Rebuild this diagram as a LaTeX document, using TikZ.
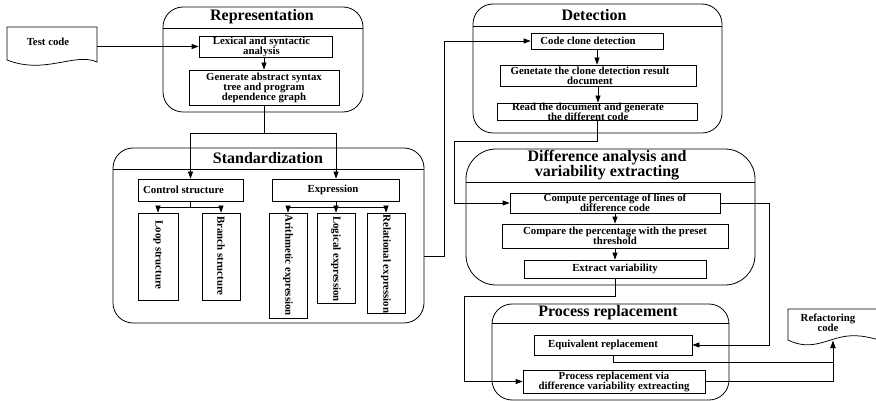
\documentclass[tikz,border=0pt]{standalone}
\usepackage{fontspec}
\setmainfont{Liberation Serif}
\usetikzlibrary{arrows.meta,calc}

\begin{document}
\begin{tikzpicture}[x=1pt,y=-1pt,
  wire/.style={line width=0.75pt},
  arr/.style={wire,-{Triangle[length=7pt,width=5pt]}},
  panel/.style={draw,line width=0.8pt,rounded corners=20pt,inner sep=0pt},
  sepline/.style={line width=0.8pt},
  title/.style={font=\fontsize{16}{13.5}\selectfont\bfseries,align=center,inner sep=0pt},
  box/.style={draw,line width=0.75pt,inner sep=0pt},
  every label/.style={font=\fontsize{10.8}{10}\selectfont\bfseries,align=center,inner sep=0pt},
  vtext/.style={font=\fontsize{10.8}{10}\selectfont\bfseries,rotate=-90,inner sep=0pt},
  doctext/.style={font=\fontsize{10.8}{10}\selectfont\bfseries,align=center,inner sep=0pt}
]
\useasboundingbox (0,0) rectangle (876,401);
\clip (0,0) rectangle (876,401);

% ---------- input document ----------
\node[minimum width=90pt,minimum height=35pt,inner sep=0pt] (tc) at (52,44.5) {};
\draw[wire] (7,27) -- (97,27) -- (97,62) .. controls (75,52) and (45,75) .. (7,60) -- cycle;
\node[doctext] (tcT) at (48,42) {Test code};

% ---------- Representation ----------
\node[panel,minimum width=200pt,minimum height=105pt] (rep) at (263,59.5) {};
\draw[sepline] (rep.west |- 0,28) -- (rep.east |- 0,28);
\node[title] (repT) at (262,17) {Representation};
\node[box,minimum width=133pt,minimum height=21pt,
      label={[xshift=-4pt]center:Lexical and syntactic\\analysis}] (lex) at (265.5,46.5) {};
\node[box,minimum width=150pt,minimum height=35pt,
      label={center:Generate abstract syntax\\tree and program\\dependence graph}] (gen) at (264,87.5) {};

% ---------- Standardization ----------
\node[panel,minimum width=311pt,minimum height=175pt] (std) at (268.5,235.5) {};
\draw[sepline] (std.west |- 0,169) -- (std.east |- 0,169);
\node[title] (stdT) at (268,158) {Standardization};
\node[box,minimum width=105pt,minimum height=22pt,
      label={[xshift=-7pt]center:Control structure}] (ctrl) at (190.5,190) {};
\node[box,minimum width=127pt,minimum height=22pt,
      label={[xshift=-3pt]center:Expression}] (expr) at (336,190) {};
\node[box,minimum width=40pt,minimum height=87pt] (loop) at (158,256.5) {};
\node[vtext] (loopT) at (158,255) {Loop structure};
\node[box,minimum width=38pt,minimum height=87pt] (branch) at (221,256.5) {};
\node[vtext] (branchT) at (221,256) {Branch structure};
\node[box,minimum width=38pt,minimum height=105pt] (arith) at (288,265.5) {};
\node[vtext] (arithT) at (288,265) {Arithmetic expression};
\node[box,minimum width=38pt,minimum height=90pt] (logic) at (336,258) {};
\node[vtext] (logicT) at (336,259) {Logical expression};
\node[box,minimum width=38pt,minimum height=100pt] (rel) at (386,263) {};
\node[vtext] (relT) at (386,264) {Relational expression};

% ---------- Detection ----------
\node[panel,minimum width=249pt,minimum height=129pt] (det) at (597.5,68.5) {};
\draw[sepline] (det.west |- 0,26) -- (det.east |- 0,26);
\node[title] (detT) at (594,15) {Detection};
\node[box,minimum width=132pt,minimum height=16pt,
      label={[xshift=-9pt]center:Code clone detection}] (cc) at (597,41) {};
\node[box,minimum width=196pt,minimum height=21pt,
      label={[xshift=-8pt]center:Genetate the clone detection result\\document}] (gd) at (598,75.5) {};
\node[box,minimum width=200pt,minimum height=17pt,
      label={[xshift=-9pt]center:Read the document and generate\\the different code}] (rd) at (597,111.5) {};

% ---------- Difference analysis ----------
\node[panel,rounded corners=30pt,minimum width=289pt,minimum height=136pt] (dif) at (610.5,217) {};
\draw[sepline] (dif.west |- 0,182) -- (dif.east |- 0,182);
\node[title] (difT) at (607,165) {Difference analysis and\\variability extracting};
\node[box,minimum width=210pt,minimum height=20pt,
      label={center:Compute percentage of lines of\\difference code}] (cp) at (615,203) {};
\node[box,minimum width=226pt,minimum height=24pt,
      label={center:Compare the percentage with the preset\\threshold}] (cmp) at (615,236) {};
\node[box,minimum width=182pt,minimum height=18pt,
      label={center:Extract variability}] (ex) at (615,269) {};

% ---------- Process replacement ----------
\node[panel,minimum width=237pt,minimum height=96pt] (proc) at (610.5,352) {};
\draw[sepline] (proc.west |- 0,323) -- (proc.east |- 0,323);
\node[title] (procT) at (608,313) {Process replacement};
\node[box,minimum width=158pt,minimum height=20pt,
      label={[xshift=-10pt]center:Equivalent replacement}] (eq) at (613,345) {};
\node[box,minimum width=182pt,minimum height=23pt,
      label={center:Process replacement via\\difference variability extreacting}] (pv) at (614,381.5) {};

% ---------- output document ----------
\draw[wire] (788,340) -- (788,309) -- (905,309) -- (905,347)
  .. controls (885,343) and (868,334) .. (848,336)
  .. controls (828,338) and (812,352) .. (788,340) -- cycle;
\node[doctext] (ref) at (828,323) {Refactoring\\code};
\coordinate (refin) at (833,341);

% ---------- connectors ----------
\draw[arr] (tc.east |- lex.west) -- (lex.west);
\draw[arr] (lex.south -| gen.north) -- (gen.north);
\draw[wire] (gen.south) -- (gen.south |- 0,133) coordinate (g1);
\draw[arr] (g1) -| (ctrl.north);
\draw[arr] (g1) -| (expr.north);
\draw[wire] (ctrl.south) -- ++(0,6) coordinate (c1);
\draw[arr] (c1) -| (loop.north);
\draw[arr] (c1) -| (branch.north);
\draw[wire] (expr.south) -- ++(0,6) coordinate (e1);
\draw[arr] (e1) -| (arith.north);
\draw[arr] (e1) -- (logic.north);
\draw[arr] (e1) -| (rel.north);
\draw[arr] (std.east |- 0,256) -- ++(20,0) |- (cc.west);
\draw[arr] (cc.south) -- (cc.south |- gd.north);
\draw[arr] (gd.south) -- (gd.south |- rd.north);
\draw[arr] (rd.south) -- ++(0,21) -| ([xshift=-55pt]cp.west) -- (cp.west);
\draw[arr] (cp.south) -- (cmp.north);
\draw[arr] (cmp.south) -- (ex.north);
\draw[arr] (cp.east) -- ++(49,0) |- (eq.east);
\draw[arr] (ex.south) -- ++(0,18) -| ([xshift=-58pt]pv.west) -- (pv.west);
\draw[arr] (eq.south) -- ++(0,7) -| (refin);
\draw[arr] (pv.east) -| (refin);
\end{tikzpicture}
\end{document}
